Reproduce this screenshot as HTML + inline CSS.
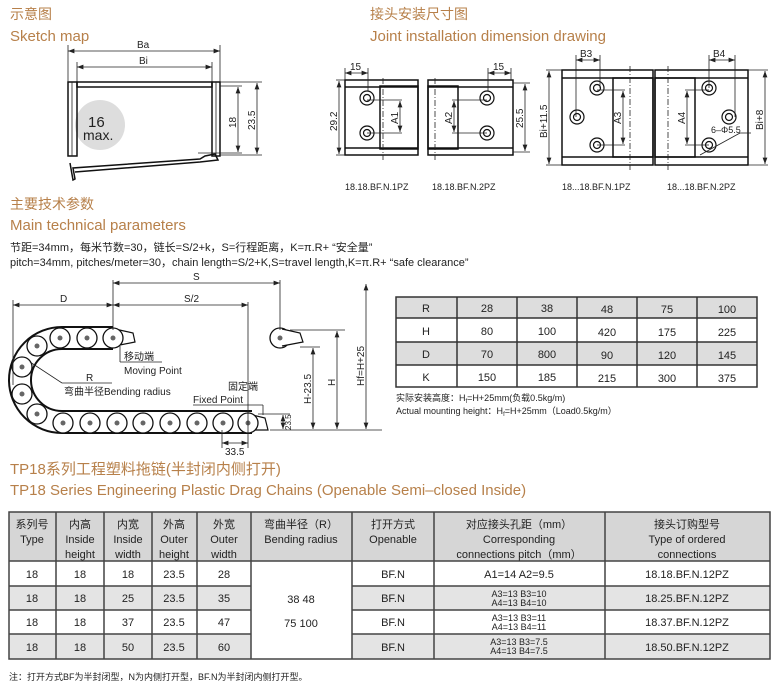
<!DOCTYPE html>
<html><head><meta charset="utf-8"><style>
body{margin:0;background:#fff;width:781px;height:691px;overflow:hidden}
svg{display:block}
text{font-family:"Liberation Sans","Noto Sans CJK SC",sans-serif;fill:#222}
.t{fill:#b7804a}
.d{stroke:#222;stroke-width:0.8;fill:none}
.k{stroke:#111;stroke-width:1.5;fill:none}
</style></head><body>
<svg width="781" height="691" viewBox="0 0 781 691" xmlns="http://www.w3.org/2000/svg">
<defs>
<marker id="a" viewBox="0 0 8 6" refX="8" refY="3" markerWidth="8" markerHeight="6" orient="auto-start-reverse"><path d="M0,0 L8,3 L0,6z" fill="#222"/></marker>
</defs>
<!-- Titles -->
<text x="10" y="19" class="t" font-size="14">示意图</text>
<text x="10" y="41" class="t" font-size="15">Sketch map</text>
<text x="370" y="19" class="t" font-size="14">接头安装尺寸图</text>
<text x="370" y="41" class="t" font-size="15">Joint installation dimension drawing</text>
<text x="10" y="209" class="t" font-size="14">主要技术参数</text>
<text x="10" y="230" class="t" font-size="15">Main technical parameters</text>
<text x="10" y="251" font-size="11">节距=34mm，每米节数=30，链长=S/2+k，S=行程距离，K=π.R+ “安全量”</text>
<text x="10" y="266" font-size="11">pitch=34mm, pitches/meter=30，chain length=S/2+K,S=travel length,K=π.R+ “safe clearance”</text>
<text x="10" y="474" class="t" font-size="15">TP18系列工程塑料拖链(半封闭内侧打开)</text>
<text x="10" y="495" class="t" font-size="15">TP18 Series Engineering Plastic Drag Chains (Openable Semi–closed Inside)</text>

<!-- Sketch map -->
<circle cx="100" cy="125" r="25" fill="#ddd"/>
<text x="88" y="127" font-size="15">16</text>
<text x="83" y="140" font-size="14">max.</text>
<rect x="68" y="82" width="9" height="74" class="k" stroke-width="1.2"/>
<line x1="72" y1="82" x2="72" y2="156" class="d"/>
<rect x="212" y="82" width="8" height="74" class="k" stroke-width="1.2"/>
<line x1="216" y1="82" x2="216" y2="156" class="d"/>
<rect x="77" y="82" width="135" height="5" class="k" stroke-width="1.2"/>
<path d="M70,163 L73,180 L75,179 L73,168 L200,159 L205,156 L215,154 L218,160 L200,162 L75,172" class="k" stroke-width="1"/>
<line x1="68" y1="45" x2="68" y2="82" class="d"/><line x1="220" y1="45" x2="220" y2="82" class="d"/>
<line x1="77" y1="62" x2="77" y2="82" class="d"/><line x1="212" y1="62" x2="212" y2="82" class="d"/>
<line x1="68" y1="51" x2="220" y2="51" class="d" marker-start="url(#a)" marker-end="url(#a)"/>
<line x1="77" y1="67" x2="212" y2="67" class="d" marker-start="url(#a)" marker-end="url(#a)"/>
<text x="137" y="48" font-size="10">Ba</text><text x="139" y="64" font-size="10">Bi</text>
<line x1="220" y1="86" x2="242" y2="86" class="d"/><line x1="198" y1="153" x2="242" y2="153" class="d"/>
<line x1="220" y1="82" x2="262" y2="82" class="d"/><line x1="220" y1="155" x2="262" y2="155" class="d"/>
<line x1="238" y1="87" x2="238" y2="152" class="d" marker-start="url(#a)" marker-end="url(#a)"/>
<line x1="257" y1="83" x2="257" y2="154" class="d" marker-start="url(#a)" marker-end="url(#a)"/>
<text transform="translate(236,128) rotate(-90)" font-size="10">18</text>
<text transform="translate(255,130) rotate(-90)" font-size="10">23.5</text>

<!-- Joint drawings -->
<g class="k" stroke-width="1">
<rect x="345" y="80" width="73" height="75"/><line x1="345" y1="87" x2="418" y2="87"/><line x1="345" y1="148" x2="418" y2="148"/>
<rect x="380" y="86" width="38" height="63"/>
<rect x="428" y="80" width="85" height="75"/><line x1="428" y1="87" x2="513" y2="87"/><line x1="428" y1="148" x2="513" y2="148"/>
<rect x="428" y="86" width="30" height="63"/>
<rect x="562" y="70" width="91" height="95"/><line x1="562" y1="78" x2="653" y2="78"/><line x1="562" y1="157" x2="653" y2="157"/>
<rect x="613" y="78" width="40" height="79"/>
<rect x="655" y="70" width="93" height="95"/><line x1="655" y1="78" x2="748" y2="78"/><line x1="655" y1="157" x2="748" y2="157"/>
<rect x="655" y="78" width="40" height="79"/>
</g>
<g fill="none" stroke="#111" stroke-width="1.2">
<circle cx="367" cy="98" r="7"/><circle cx="367" cy="98" r="3.5"/>
<circle cx="367" cy="133" r="7"/><circle cx="367" cy="133" r="3.5"/>
<circle cx="487" cy="98" r="7"/><circle cx="487" cy="98" r="3.5"/>
<circle cx="487" cy="133" r="7"/><circle cx="487" cy="133" r="3.5"/>
<circle cx="577" cy="117" r="7"/><circle cx="577" cy="117" r="3.5"/>
<circle cx="597" cy="88" r="7"/><circle cx="597" cy="88" r="3.5"/>
<circle cx="597" cy="145" r="7"/><circle cx="597" cy="145" r="3.5"/>
<circle cx="709" cy="88" r="7"/><circle cx="709" cy="88" r="3.5"/>
<circle cx="729" cy="117" r="7"/><circle cx="729" cy="117" r="3.5"/>
<circle cx="709" cy="145" r="7"/><circle cx="709" cy="145" r="3.5"/>
</g>
<g class="d">
<line x1="336" y1="80" x2="345" y2="80"/><line x1="336" y1="155" x2="345" y2="155"/>
<line x1="339" y1="81" x2="339" y2="154" marker-start="url(#a)" marker-end="url(#a)"/>
<line x1="345" y1="68" x2="345" y2="80"/><line x1="368" y1="68" x2="368" y2="91"/>
<line x1="345" y1="73" x2="368" y2="73" marker-start="url(#a)" marker-end="url(#a)"/>
<line x1="367" y1="100" x2="402" y2="100"/><line x1="367" y1="133" x2="402" y2="133"/>
<line x1="400" y1="101" x2="400" y2="132" marker-start="url(#a)" marker-end="url(#a)"/>
<line x1="487" y1="100" x2="452" y2="100"/><line x1="487" y1="133" x2="452" y2="133"/>
<line x1="454" y1="101" x2="454" y2="132" marker-start="url(#a)" marker-end="url(#a)"/>
<line x1="488" y1="68" x2="488" y2="91"/><line x1="511" y1="68" x2="511" y2="80"/>
<line x1="488" y1="73" x2="511" y2="73" marker-start="url(#a)" marker-end="url(#a)"/>
<line x1="513" y1="83" x2="530" y2="83"/><line x1="513" y1="152" x2="530" y2="152"/>
<line x1="525" y1="84" x2="525" y2="151" marker-start="url(#a)" marker-end="url(#a)"/>
<line x1="546" y1="70" x2="562" y2="70"/><line x1="546" y1="165" x2="562" y2="165"/>
<line x1="549" y1="71" x2="549" y2="164" marker-start="url(#a)" marker-end="url(#a)"/>
<line x1="576" y1="55" x2="576" y2="117"/><line x1="600" y1="55" x2="600" y2="88"/>
<line x1="576" y1="60" x2="600" y2="60" marker-start="url(#a)" marker-end="url(#a)"/>
<line x1="597" y1="90" x2="625" y2="90"/><line x1="597" y1="145" x2="625" y2="145"/>
<line x1="623" y1="91" x2="623" y2="144" marker-start="url(#a)" marker-end="url(#a)"/>
<line x1="709" y1="90" x2="685" y2="90"/><line x1="709" y1="145" x2="685" y2="145"/>
<line x1="687" y1="91" x2="687" y2="144" marker-start="url(#a)" marker-end="url(#a)"/>
<line x1="709" y1="55" x2="709" y2="88"/><line x1="735" y1="55" x2="735" y2="117"/>
<line x1="709" y1="60" x2="735" y2="60" marker-start="url(#a)" marker-end="url(#a)"/>
<line x1="748" y1="70" x2="768" y2="70"/><line x1="748" y1="165" x2="768" y2="165"/>
<line x1="765" y1="71" x2="765" y2="164" marker-start="url(#a)" marker-end="url(#a)"/>
<line x1="700" y1="155" x2="740" y2="133"/><line x1="740" y1="133" x2="751" y2="133"/>
<line x1="383" y1="78" x2="383" y2="160" stroke-dasharray="6,2,1,2"/>
<line x1="435" y1="78" x2="435" y2="160" stroke-dasharray="6,2,1,2"/>
<line x1="630" y1="66" x2="630" y2="170" stroke-dasharray="6,2,1,2"/>
<line x1="668" y1="66" x2="668" y2="170" stroke-dasharray="6,2,1,2"/>
</g>
<text x="350" y="70" font-size="10">15</text><text x="493" y="70" font-size="10">15</text>
<text x="580" y="57" font-size="10">B3</text><text x="713" y="57" font-size="10">B4</text>
<text x="711" y="133" font-size="9">6–Φ5.5</text>
<text transform="translate(337,131) rotate(-90)" font-size="10">29.2</text>
<text transform="translate(398,124) rotate(-90)" font-size="10">A1</text>
<text transform="translate(452,124) rotate(-90)" font-size="10">A2</text>
<text transform="translate(523,128) rotate(-90)" font-size="10">25.5</text>
<text transform="translate(547,138) rotate(-90)" font-size="10">Bi+11.5</text>
<text transform="translate(621,124) rotate(-90)" font-size="10">A3</text>
<text transform="translate(685,124) rotate(-90)" font-size="10">A4</text>
<text transform="translate(763,130) rotate(-90)" font-size="10">Bi+8</text>
<text x="345" y="190" font-size="9">18.18.BF.N.1PZ</text>
<text x="432" y="190" font-size="9">18.18.BF.N.2PZ</text>
<text x="562" y="190" font-size="9">18...18.BF.N.1PZ</text>
<text x="667" y="190" font-size="9">18...18.BF.N.2PZ</text>

<!-- Chain -->
<path d="M113,338 L62,338 A42,42 0 0 0 62,422 L252,422" fill="none" stroke="#111" stroke-width="24"/>
<path d="M113,338 L62,338 A42,42 0 0 0 62,422 L252,422" fill="none" stroke="#fff" stroke-width="20"/>
<path d="M115,329 L133,333 L135,342 L115,346z" fill="#fff" stroke="#111" stroke-width="1.2"/>
<path d="M248,414 L265,418 L268,430 L248,430z" fill="#fff" stroke="#111" stroke-width="1.2"/>
<g fill="#fff" stroke="#111" stroke-width="1.3">
<circle cx="63" cy="423" r="10"/><circle cx="90" cy="423" r="10"/><circle cx="117" cy="423" r="10"/><circle cx="143" cy="423" r="10"/><circle cx="170" cy="423" r="10"/><circle cx="197" cy="423" r="10"/><circle cx="223" cy="423" r="10"/><circle cx="248" cy="423" r="10"/>
<circle cx="60" cy="338" r="10"/><circle cx="87" cy="338" r="10"/><circle cx="113" cy="338" r="10"/>
<circle cx="37" cy="346" r="10"/><circle cx="22" cy="367" r="10"/><circle cx="22" cy="394" r="10"/><circle cx="37" cy="414" r="10"/>
<circle cx="280" cy="338" r="10"/>
</g>
<path d="M282,329 L300,333 L303,342 L282,346" fill="#fff" stroke="#111" stroke-width="1.2"/>
<g fill="#666">
<circle cx="63" cy="423" r="2.5"/><circle cx="90" cy="423" r="2.5"/><circle cx="117" cy="423" r="2.5"/><circle cx="143" cy="423" r="2.5"/><circle cx="170" cy="423" r="2.5"/><circle cx="197" cy="423" r="2.5"/><circle cx="223" cy="423" r="2.5"/><circle cx="248" cy="423" r="2.5"/>
<circle cx="60" cy="338" r="2.5"/><circle cx="87" cy="338" r="2.5"/><circle cx="113" cy="338" r="2.5"/>
<circle cx="37" cy="346" r="2.5"/><circle cx="22" cy="367" r="2.5"/><circle cx="22" cy="394" r="2.5"/><circle cx="37" cy="414" r="2.5"/><circle cx="280" cy="338" r="2.5"/>
</g>
<g class="d">
<line x1="113" y1="280" x2="113" y2="330"/><line x1="280" y1="280" x2="280" y2="330"/>
<line x1="13" y1="300" x2="13" y2="385"/><line x1="248" y1="302" x2="248" y2="448"/>
<line x1="113" y1="283" x2="280" y2="283" marker-start="url(#a)" marker-end="url(#a)"/>
<line x1="13" y1="305" x2="113" y2="305" marker-start="url(#a)" marker-end="url(#a)"/>
<line x1="113" y1="305" x2="248" y2="305" marker-start="url(#a)" marker-end="url(#a)"/>
<line x1="222" y1="430" x2="222" y2="448"/>
<line x1="222" y1="443" x2="248" y2="443" marker-start="url(#a)" marker-end="url(#a)"/>
<line x1="270" y1="430" x2="382" y2="430"/>
<line x1="258" y1="414" x2="290" y2="414"/>
<line x1="283" y1="415" x2="283" y2="429" marker-start="url(#a)" marker-end="url(#a)"/>
<line x1="300" y1="347" x2="320" y2="347"/><line x1="290" y1="330" x2="345" y2="330"/>
<line x1="313" y1="348" x2="313" y2="429" marker-start="url(#a)" marker-end="url(#a)"/>
<line x1="337" y1="331" x2="337" y2="429" marker-start="url(#a)" marker-end="url(#a)"/>
<line x1="366" y1="284" x2="366" y2="429" marker-start="url(#a)" marker-end="url(#a)"/>
<line x1="120" y1="346" x2="120" y2="362"/><line x1="120" y1="362" x2="162" y2="362"/>
<line x1="30" y1="362" x2="62" y2="383"/><line x1="62" y1="383" x2="112" y2="383"/>
<line x1="193" y1="405" x2="263" y2="405"/><line x1="263" y1="405" x2="263" y2="415"/>
</g>
<text x="193" y="280" font-size="10">S</text>
<text x="60" y="302" font-size="10">D</text>
<text x="184" y="302" font-size="10">S/2</text>
<text x="124" y="360" font-size="10">移动端</text>
<text x="124" y="374" font-size="10">Moving Point</text>
<text x="86" y="381" font-size="10">R</text>
<text x="64" y="395" font-size="10">弯曲半径Bending radius</text>
<text x="228" y="390" font-size="10">固定端</text>
<text x="193" y="403" font-size="10">Fixed Point</text>
<text x="225" y="455" font-size="10">33.5</text>
<text transform="translate(291,430) rotate(-90)" font-size="8">23.5</text>
<text transform="translate(311,404) rotate(-90)" font-size="10">H-23.5</text>
<text transform="translate(335,386) rotate(-90)" font-size="10">H</text>
<text transform="translate(364,386) rotate(-90)" font-size="10">Hf=H+25</text>

<!-- Parameter table -->
<rect x="396" y="297" width="361" height="21" fill="#ddd"/>
<rect x="396" y="342" width="361" height="23" fill="#ddd"/>
<g stroke="#333" stroke-width="1.5" fill="none">
<rect x="396" y="297" width="361" height="90"/>
<line x1="396" y1="318" x2="757" y2="318"/><line x1="396" y1="342" x2="757" y2="342"/><line x1="396" y1="365" x2="757" y2="365"/>
<line x1="457" y1="297" x2="457" y2="387"/><line x1="517" y1="297" x2="517" y2="387"/><line x1="577" y1="297" x2="577" y2="387"/><line x1="637" y1="297" x2="637" y2="387"/><line x1="697" y1="297" x2="697" y2="387"/>
</g>
<g font-size="11" text-anchor="middle">
<text x="426" y="312">R</text><text x="487" y="312">28</text><text x="547" y="312">38</text><text x="607" y="313">48</text><text x="667" y="313">75</text><text x="727" y="313">100</text>
<text x="426" y="335">H</text><text x="487" y="335">80</text><text x="547" y="335">100</text><text x="607" y="336">420</text><text x="667" y="336">175</text><text x="727" y="336">225</text>
<text x="426" y="358">D</text><text x="487" y="358">70</text><text x="547" y="358">800</text><text x="607" y="359">90</text><text x="667" y="359">120</text><text x="727" y="359">145</text>
<text x="426" y="381">K</text><text x="487" y="381">150</text><text x="547" y="381">185</text><text x="607" y="382">215</text><text x="667" y="382">300</text><text x="727" y="382">375</text>
</g>
<text x="396" y="401" font-size="9">实际安装高度：H<tspan font-size="6" dy="2">f</tspan><tspan dy="-2">=H+25mm(负载0.5kg/m)</tspan></text>
<text x="396" y="414" font-size="9">Actual mounting height：H<tspan font-size="6" dy="2">f</tspan><tspan dy="-2">=H+25mm（Load0.5kg/m）</tspan></text>

<!-- Main table -->
<rect x="9" y="512" width="761" height="49" fill="#d6d6d6"/>
<rect x="9" y="586" width="761" height="24" fill="#e4e4e4"/>
<rect x="9" y="634" width="761" height="25" fill="#e4e4e4"/>
<rect x="251" y="561" width="101" height="98" fill="#fff"/>
<g stroke="#444" stroke-width="1.5" fill="none">
<rect x="9" y="512" width="761" height="147"/>
<line x1="9" y1="561" x2="770" y2="561"/>
<line x1="9" y1="586" x2="251" y2="586"/><line x1="352" y1="586" x2="770" y2="586"/>
<line x1="9" y1="610" x2="251" y2="610"/><line x1="352" y1="610" x2="770" y2="610"/>
<line x1="9" y1="634" x2="251" y2="634"/><line x1="352" y1="634" x2="770" y2="634"/>
<line x1="56" y1="512" x2="56" y2="659"/><line x1="104" y1="512" x2="104" y2="659"/><line x1="152" y1="512" x2="152" y2="659"/><line x1="197" y1="512" x2="197" y2="659"/><line x1="251" y1="512" x2="251" y2="659"/><line x1="352" y1="512" x2="352" y2="659"/><line x1="434" y1="512" x2="434" y2="659"/><line x1="605" y1="512" x2="605" y2="659"/>
</g>
<g font-size="11" text-anchor="middle">
<text x="32" y="528">系列号</text><text x="32" y="543">Type</text>
<text x="80" y="528">内高</text><text x="80" y="543">Inside</text><text x="80" y="558">height</text>
<text x="128" y="528">内宽</text><text x="128" y="543">Inside</text><text x="128" y="558">width</text>
<text x="174" y="528">外高</text><text x="174" y="543">Outer</text><text x="174" y="558">height</text>
<text x="224" y="528">外宽</text><text x="224" y="543">Outer</text><text x="224" y="558">width</text>
<text x="301" y="528">弯曲半径（R）</text><text x="301" y="543">Bending radius</text>
<text x="393" y="528">打开方式</text><text x="393" y="543">Openable</text>
<text x="519" y="528">对应接头孔距（mm）</text><text x="519" y="543">Corresponding</text><text x="519" y="558">connections pitch（mm）</text>
<text x="687" y="528">接头订购型号</text><text x="687" y="543">Type of ordered</text><text x="687" y="558">connections</text>
<text x="32" y="578">18</text><text x="80" y="578">18</text><text x="128" y="578">18</text><text x="174" y="578">23.5</text><text x="224" y="578">28</text><text x="393" y="578">BF.N</text><text x="519" y="578">A1=14  A2=9.5</text><text x="687" y="578">18.18.BF.N.12PZ</text>
<text x="32" y="602">18</text><text x="80" y="602">18</text><text x="128" y="602">25</text><text x="174" y="602">23.5</text><text x="224" y="602">35</text><text x="393" y="602">BF.N</text><text x="687" y="602">18.25.BF.N.12PZ</text>
<text x="32" y="626">18</text><text x="80" y="626">18</text><text x="128" y="626">37</text><text x="174" y="626">23.5</text><text x="224" y="626">47</text><text x="393" y="626">BF.N</text><text x="687" y="626">18.37.BF.N.12PZ</text>
<text x="32" y="651">18</text><text x="80" y="651">18</text><text x="128" y="651">50</text><text x="174" y="651">23.5</text><text x="224" y="651">60</text><text x="393" y="651">BF.N</text><text x="687" y="651">18.50.BF.N.12PZ</text>
<text x="301" y="603">38  48</text><text x="301" y="627">75  100</text>
</g>
<g font-size="9" text-anchor="middle">
<text x="519" y="597">A3=13  B3=10</text><text x="519" y="606">A4=13  B4=10</text>
<text x="519" y="621">A3=13  B3=11</text><text x="519" y="630">A4=13  B4=11</text>
<text x="519" y="645">A3=13  B3=7.5</text><text x="519" y="654">A4=13  B4=7.5</text>
</g>
<text x="9" y="680" font-size="9">注：打开方式BF为半封闭型，N为内侧打开型，BF.N为半封闭内侧打开型。</text>
</svg>
</body></html>
